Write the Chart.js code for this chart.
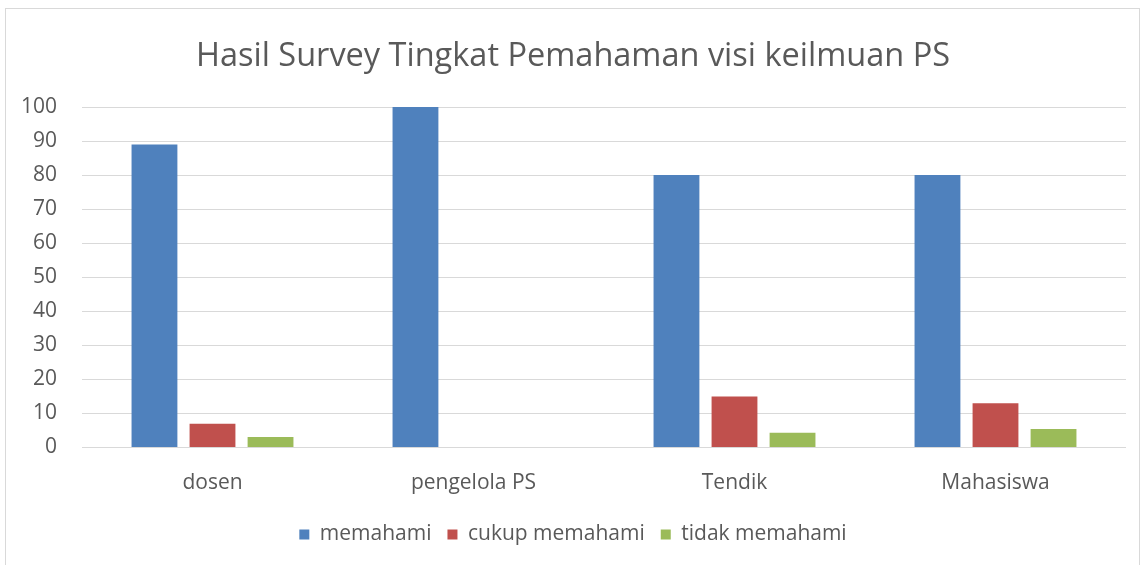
<!DOCTYPE html>
<html>
<head>
<meta charset="utf-8">
<script src="https://cdn.jsdelivr.net/npm/chart.js@4.4.0/dist/chart.umd.min.js"></script>
<style>
html,body{margin:0;padding:0;background:#fff;}
#wrap{position:absolute;left:0;top:0;width:1145px;height:565px;}
</style>
</head>
<body>
<div id="wrap"><canvas id="c" width="1145" height="565"></canvas></div>
<script>
const categories = ['dosen', 'pengelola PS', 'Tendik', 'Mahasiswa'];
const memahami = [89, 100, 80, 80];
const cukupMemahami = [7, 0, 15, 13];
const tidakMemahami = [3.1, 0, 4.3, 5.4];
const seriesNames = ['memahami', 'cukup memahami', 'tidak memahami'];
const seriesColors = ['#4F81BD', '#C0504D', '#9BBB59'];
const yTicks = [0, 10, 20, 30, 40, 50, 60, 70, 80, 90, 100];
const titleText = 'Hasil Survey Tingkat Pemahaman visi keilmuan PS';

const FONT = "'Open Sans', 'Liberation Sans', sans-serif";
const TXT = '#595959';

const borderPlugin = {
  id: 'outerBorder',
  beforeDraw(chart) {
    const ctx = chart.ctx;
    ctx.save();
    ctx.fillStyle = '#fff';
    ctx.fillRect(0, 0, chart.width, chart.height);
    ctx.strokeStyle = '#d9d9d9';
    ctx.lineWidth = 1;
    ctx.strokeRect(5.5, 8.5, 1134, 570);
    ctx.restore();
  }
};

new Chart(document.getElementById('c'), {
  type: 'bar',
  data: {
    labels: categories,
    datasets: [
      { label: seriesNames[0], data: memahami, backgroundColor: seriesColors[0] },
      { label: seriesNames[1], data: cukupMemahami, backgroundColor: seriesColors[1] },
      { label: seriesNames[2], data: tidakMemahami, backgroundColor: seriesColors[2] }
    ]
  },
  plugins: [borderPlugin],
  options: {
    responsive: false,
    animation: false,
    devicePixelRatio: 1,
    categoryPercentage: 0.667,
    barPercentage: 0.79,
    layout: { padding: { left: 20, right: 19, top: 22, bottom: 10 } },
    plugins: {
      title: {
        display: true,
        text: titleText,
        color: TXT,
        font: { family: FONT, size: 32.5, weight: 'normal' },
        padding: { top: 15, bottom: 31 }
      },
      legend: {
        display: true,
        position: 'bottom',
        labels: {
          color: TXT,
          font: { family: FONT, size: 21 },
          boxWidth: 10,
          boxHeight: 10,
          padding: 16
        }
      },
      tooltip: { enabled: false }
    },
    scales: {
      x: {
        afterFit(scale) { scale.height = 60.5; },
        grid: { display: false, drawTicks: false },
        border: { display: false },
        ticks: { color: TXT, font: { family: FONT, size: 21 }, padding: 23 }
      },
      y: {
        min: 0,
        max: 100,
        afterBuildTicks(scale) { scale.ticks = yTicks.map(v => ({ value: v })); },
        afterFit(scale) { scale.width = 62; },
        grid: { color: '#d9d9d9', drawTicks: false },
        border: { display: false },
        ticks: { color: TXT, font: { family: FONT, size: 21 }, padding: 25 }
      }
    }
  }
});
</script>
</body>
</html>
